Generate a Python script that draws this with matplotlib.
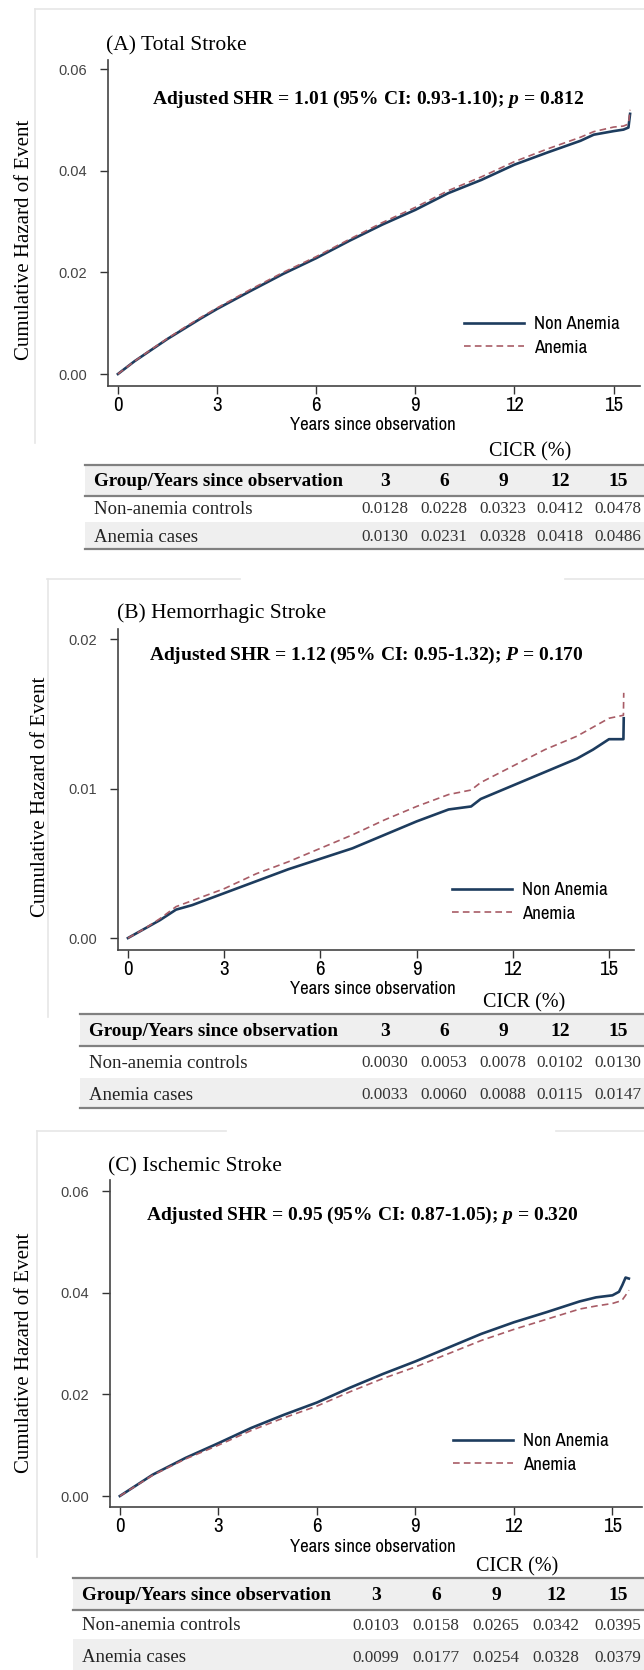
import matplotlib
matplotlib.use("Agg")
import matplotlib.pyplot as plt
from matplotlib.lines import Line2D
from matplotlib.patches import Rectangle

W, H = 644, 1670
SERIF = "Liberation Serif"
NARROW = ["Archivo Narrow", "Roboto Condensed", "DejaVu Sans"]
TICKF = ["Liberation Sans", "DejaVu Sans"]

plt.rcParams["mathtext.fontset"] = "custom"
plt.rcParams["mathtext.rm"] = "Liberation Serif:bold"
plt.rcParams["mathtext.it"] = "Liberation Serif:italic:bold"

NAVY = "#1d3c5e"
ROSE = "#a85c66"
BAND = "#efefef"
RULE = "#808080"

# ---- curve data ----
t_a = [0, 0.5, 1, 1.5, 2, 2.5, 3, 4, 5, 6, 7, 8, 9, 10, 11, 12, 13, 14, 14.4, 15, 15.3, 15.45, 15.5]
a_non = [0, 0.0025, 0.0047, 0.0069, 0.0089, 0.0109, 0.0128, 0.0163, 0.0197, 0.0228, 0.0262, 0.0294,
         0.0323, 0.0356, 0.0382, 0.0412, 0.0436, 0.0459, 0.0471, 0.0478, 0.0481, 0.0485, 0.0512]
a_ane = [0, 0.0025, 0.0048, 0.0070, 0.0091, 0.0111, 0.0130, 0.0166, 0.0200, 0.0231, 0.0265, 0.0298,
         0.0328, 0.0361, 0.0388, 0.0418, 0.0443, 0.0466, 0.0477, 0.0486, 0.0488, 0.0492, 0.0520]

t_b = [0, 0.5, 1, 1.5, 2, 3, 4, 5, 6, 7, 8, 9, 10, 10.7, 11, 12, 13, 14, 14.5, 15, 15.45, 15.46]
b_non = [0, 0.0006, 0.0012, 0.0019, 0.0022, 0.0030, 0.0038, 0.0046, 0.0053, 0.0060, 0.0069, 0.0078,
         0.0086, 0.0088, 0.0093, 0.0102, 0.0111, 0.0120, 0.0126, 0.0133, 0.0133, 0.0147]
b_ane = [0, 0.0006, 0.0013, 0.0021, 0.0025, 0.0033, 0.0043, 0.0051, 0.0060, 0.0069, 0.0079, 0.0088,
         0.0096, 0.0099, 0.0104, 0.0115, 0.0126, 0.0135, 0.0141, 0.0147, 0.0149, 0.0164]

t_c = [0, 1, 2, 3, 4, 5, 6, 7, 8, 9, 10, 11, 12, 13, 14, 14.5, 15, 15.2, 15.3, 15.4, 15.5]
c_non = [0, 0.0042, 0.0075, 0.0104, 0.0134, 0.0160, 0.0184, 0.0213, 0.0240, 0.0265, 0.0292, 0.0319,
         0.0342, 0.0362, 0.0383, 0.0391, 0.0395, 0.0402, 0.0415, 0.0430, 0.0428]
c_ane = [0, 0.0041, 0.0073, 0.0100, 0.0129, 0.0154, 0.0177, 0.0205, 0.0231, 0.0254, 0.0280, 0.0306,
         0.0328, 0.0348, 0.0368, 0.0374, 0.0379, 0.0383, 0.0386, 0.0395, 0.0405]

# ---- table data ----
years = ["3", "6", "9", "12", "15"]
groups = ["Non-anemia controls", "Anemia cases"]
tab_a = [["0.0128", "0.0228", "0.0323", "0.0412", "0.0478"],
         ["0.0130", "0.0231", "0.0328", "0.0418", "0.0486"]]
tab_b = [["0.0030", "0.0053", "0.0078", "0.0102", "0.0130"],
         ["0.0033", "0.0060", "0.0088", "0.0115", "0.0147"]]
tab_c = [["0.0103", "0.0158", "0.0265", "0.0342", "0.0395"],
         ["0.0099", "0.0177", "0.0254", "0.0328", "0.0379"]]

titles = ["(A) Total Stroke", "(B) Hemorrhagic Stroke", "(C) Ischemic Stroke"]
notes = [r"Adjusted SHR = 1.01 (95% CI: 0.93-1.10); $p$ = 0.812",
         r"Adjusted SHR = 1.12 (95% CI: 0.95-1.32); $P$ = 0.170",
         r"Adjusted SHR = 0.95 (95% CI: 0.87-1.05); $p$ = 0.320"]

fig = plt.figure(figsize=(W / 100, H / 100), dpi=100)


def fx(x):
    return x / W


def fy(y):
    return 1 - y / H


def frame(pieces):
    for (x0, y0, x1, y1) in pieces:
        fig.add_artist(Line2D([fx(x0), fx(x1)], [fy(y0), fy(y1)], color="#e6e6e6", lw=1.2))


def panel(box, xlim, ylim, yticks, ylabels, t, non, ane, title, title_xy, note, note_xy,
          leg_xy, ylab_xy, xlab_y):
    l, t_, r, b = box
    ax = fig.add_axes([fx(l), fy(b), fx(r - l), (b - t_) / H])
    ax.plot(t, non, color=NAVY, lw=1.9, label="Non Anemia", zorder=3)
    ax.plot(t, ane, color=ROSE, lw=1.2, ls=(0, (4, 2.5)), label="Anemia", zorder=4)
    ax.set_xlim(*xlim)
    ax.set_ylim(*ylim)
    ax.set_xticks([0, 3, 6, 9, 12, 15])
    ax.set_yticks(yticks)
    ax.set_yticklabels(ylabels, family=TICKF, fontsize=10.5, color="#444444")
    ax.set_xticklabels(["0", "3", "6", "9", "12", "15"], family=NARROW, fontsize=15)
    ax.tick_params(axis="both", direction="out", length=6, width=1, color="#333333")
    ax.tick_params(axis="x", pad=1)
    ax.tick_params(axis="y", pad=9)
    for s in ("top", "right"):
        ax.spines[s].set_visible(False)
    for s in ("left", "bottom"):
        ax.spines[s].set_color("#444444")
        ax.spines[s].set_linewidth(1.2)
    ax.patch.set_alpha(0)
    ax.legend(loc="upper left", bbox_to_anchor=(fx(leg_xy[0]), fy(leg_xy[1])),
              bbox_transform=fig.transFigure, frameon=False, borderpad=0, borderaxespad=0,
              handlelength=3.2, handletextpad=0.55, labelspacing=0.4,
              prop={"family": NARROW, "size": 13.5})
    fig.text(fx(title_xy[0]), fy(title_xy[1]), title, family=SERIF, fontsize=15.5,
             ha="left", va="center")
    fig.text(fx(note_xy[0]), fy(note_xy[1]), note, family=SERIF, fontsize=14,
             fontweight="bold", ha="center", va="center")
    fig.text(fx(ylab_xy[0]), fy(ylab_xy[1]), "Cumulative Hazard of Event", family=SERIF,
             fontsize=15, rotation=90, ha="center", va="center")
    fig.text(fx(373), fy(xlab_y), "Years since observation", family=NARROW, fontsize=13.5,
             ha="center", va="center")
    return ax


def table(left, ys, cols, cicr_x, text_x, rows):
    cicr_y, top, head_y, head_line, r1_y, split, r2_y, bottom = ys
    fig.text(fx(cicr_x), fy(cicr_y), "CICR (%)", family=SERIF, fontsize=14.5,
             ha="center", va="center")
    fig.add_artist(Rectangle((fx(left), fy(head_line)), fx(W - left), (head_line - top) / H,
                             color=BAND, lw=0, zorder=0))
    fig.add_artist(Rectangle((fx(left), fy(bottom)), fx(W - left), (bottom - split) / H,
                             color=BAND, lw=0, zorder=0))
    for yy in (top, head_line, bottom):
        fig.add_artist(Line2D([fx(left), 1], [fy(yy), fy(yy)], color=RULE, lw=1.6))
    fig.text(fx(text_x), fy(head_y), "Group/Years since observation", family=SERIF,
             fontsize=13.7, fontweight="bold", ha="left", va="center")
    for cx, yr in zip(cols, years):
        fig.text(fx(cx), fy(head_y), yr, family=SERIF, fontsize=14, fontweight="bold",
                 ha="center", va="center")
    for ry, name, vals in zip((r1_y, r2_y), groups, rows):
        fig.text(fx(text_x), fy(ry), name, family=SERIF, fontsize=13.5, ha="left", va="center",
                 color="#222222")
        for cx, v in zip(cols, vals):
            fig.text(fx(cx), fy(ry), v, family=SERIF, fontsize=12.3, ha="center", va="center",
                     color="#333333")


# faint frames of the pasted panels
frame([(35, 9, W, 9), (35, 9, 35, 443)])
frame([(47, 579, 240, 579), (565, 579, W, 579), (48, 579, 48, 1017)])
frame([(37, 1131, 226, 1131), (556, 1131, W, 1131), (37, 1131, 37, 1557)])

# Panel A
panel((108, 60, 640, 386), (-0.30, 15.80), (-0.00236, 0.0618), [0, 0.02, 0.04, 0.06],
      ["0.00", "0.02", "0.04", "0.06"], t_a, a_non, a_ane, titles[0], (106, 46),
      notes[0], (368, 99), (464, 316), (25, 240), 425)
table(85, (452, 465, 481, 496, 509, 522, 537, 549), [385, 444, 503, 560, 618], 530, 94, tab_a)

# Panel B
panel((118, 629, 634, 950), (-0.31, 15.78), (-0.0008, 0.02067), [0, 0.01, 0.02],
      ["0.00", "0.01", "0.02"], t_b, b_non, b_ane, titles[1], (117, 613),
      notes[1], (366, 655), (452, 882), (41, 797), 989)
table(80, (1003, 1014, 1032, 1046, 1063, 1078, 1095, 1108), [385, 444, 503, 560, 618], 524, 89, tab_b)

# Panel C
panel((110, 1180, 642, 1507), (-0.30, 15.90), (-0.00216, 0.0622), [0, 0.02, 0.04, 0.06],
      ["0.00", "0.02", "0.04", "0.06"], t_c, c_non, c_ane, titles[2], (108, 1167),
      notes[2], (362, 1215), (453, 1433), (25, 1353), 1547)
table(73, (1567, 1578, 1596, 1610, 1626, 1639, 1658, 1673), [376, 436, 496, 556, 618], 517, 82, tab_c)

fig.savefig("out.png", dpi=100)
